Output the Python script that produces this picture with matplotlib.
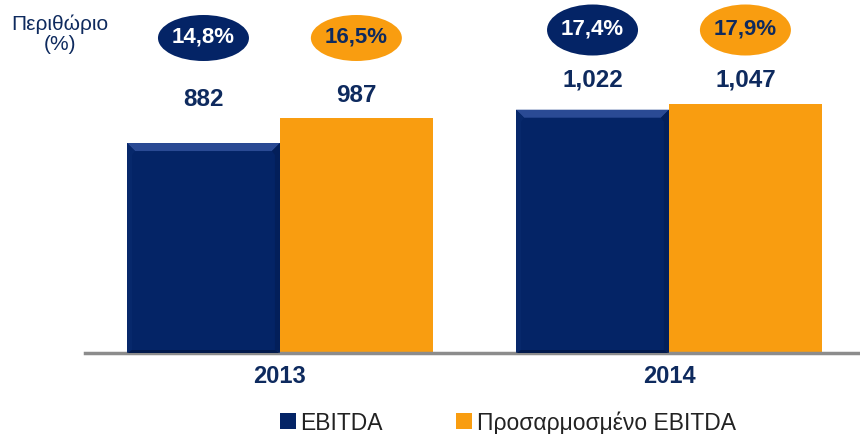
import matplotlib
matplotlib.use("Agg")
import matplotlib.pyplot as plt
from matplotlib.patches import Ellipse, Polygon, Patch
import numpy as np

plt.rcParams['font.family'] = ['Liberation Sans', 'DejaVu Sans']

years = ['2013', '2014']
series_names = ['EBITDA', 'Προσαρμοσμένο EBITDA']
ebitda = [882, 1022]
adj_ebitda = [987, 1047]
ebitda_labels = ['882', '1,022']
adj_labels = ['987', '1,047']
ebitda_margin = ['14,8%', '17,4%']
adj_margin = ['16,5%', '17,9%']

NAVY = '#042466'
ORANGE = '#F99D10'
TXT = '#0E2A5E'

W, H = 860, 435
fig = plt.figure(figsize=(W / 100, H / 100), dpi=100)
ax = fig.add_axes([85 / W, (H - 354) / H, 775 / W, 354 / H])
ax.set_xlim(-0.501, 1.491)
ax.set_ylim(0, 1487)
for s in ['top', 'right', 'left']:
    ax.spines[s].set_visible(False)
ax.spines['bottom'].set_color('#8C8C8C')
ax.spines['bottom'].set_linewidth(2.5)
ax.set_yticks([])
x = np.arange(len(years))
bw = 0.393
b1 = ax.bar(x - bw / 2, ebitda, bw, color=NAVY, zorder=2)
b2 = ax.bar(x + bw / 2, adj_ebitda, bw, color=ORANGE, zorder=2)
ax.set_xticks(x)
ax.set_xticklabels(years, fontsize=17, fontweight='bold', color=TXT)
ax.tick_params(axis='x', length=0, pad=8)

# bevel on navy bars
fig.canvas.draw()
inv = ax.transData.inverted()
bev = 8
sb = 5
for r in b1:
    x0, y0 = r.get_x(), 0
    x1, y1 = x0 + r.get_width(), r.get_height()
    (px0, py0), (px1, py1) = ax.transData.transform([(x0, y0), (x1, y1)])
    def d(px, py):
        return inv.transform((px, py))
    top = [d(px0, py1), d(px1, py1), d(px1 - bev, py1 - bev), d(px0 + bev, py1 - bev)]
    left = [d(px0, py0), d(px0, py1), d(px0 + bev, py1 - bev), d(px0 + sb, py1 - bev - 4), d(px0 + sb, py0 + 3)]
    right = [d(px1, py0), d(px1, py1), d(px1 - bev, py1 - bev), d(px1 - sb, py1 - bev - 4), d(px1 - sb, py0 + 3)]
    bot = [d(px0, py0), d(px1, py0), d(px1 - sb, py0 + 3), d(px0 + sb, py0 + 3)]
    ax.add_patch(Polygon(top, closed=True, color='#2A4A94', lw=0, zorder=3))
    ax.add_patch(Polygon(left, closed=True, color='#07286B', lw=0, zorder=3))
    ax.add_patch(Polygon(right, closed=True, color='#031F5A', lw=0, zorder=3))
    ax.add_patch(Polygon(bot, closed=True, color='#021A4C', lw=0, zorder=3))

# value labels
label_off = [(45, 31), (24, 25)]  # px above bar top: (ebitda, adj) per year
for i in range(len(years)):
    for bars, labs, k in ((b1, ebitda_labels, 0), (b2, adj_labels, 1)):
        r = bars[i]
        ax.annotate(labs[i], (r.get_x() + r.get_width() / 2, r.get_height()),
                    xytext=(0, label_off[k][i] / 1.389), textcoords='offset points',
                    ha='center', va='center', fontsize=17.5, fontweight='bold', color=TXT)

# margin ellipses
ell_y = [39, 31]
ell_h = [46, 51]
ell_w = 91
for i in range(len(years)):
    for bars, labs, fc, tc in ((b1, ebitda_margin, NAVY, 'white'), (b2, adj_margin, ORANGE, TXT)):
        r = bars[i]
        cx, _ = ax.transData.transform((r.get_x() + r.get_width() / 2, 0))
        cy = H - ell_y[i]
        fig.patches.append(Ellipse((cx / W, cy / H), ell_w / W, ell_h[i] / H,
                                   transform=fig.transFigure, facecolor=fc, edgecolor='none'))
        fig.text(cx / W, (cy + 2) / H, labs[i], ha='center', va='center',
                 fontsize=16, fontweight='bold', color=tc)

fig.text(60 / W, 1 - 34 / H, 'Περιθώριο\n(%)', ha='center', va='center',
         fontsize=15, color=TXT, linespacing=1.05)

handles = [Patch(facecolor=NAVY, edgecolor='none'), Patch(facecolor=ORANGE, edgecolor='none')]
fig.legend(handles, series_names, loc='center', bbox_to_anchor=(508 / W, 12 / H),
           ncol=2, frameon=False, fontsize=16.5, handlelength=0.7, handleheight=0.7,
           handletextpad=0.2, columnspacing=3.2, labelcolor='#222222',
           borderpad=0, borderaxespad=0)

fig.savefig('out.png', dpi=100)
